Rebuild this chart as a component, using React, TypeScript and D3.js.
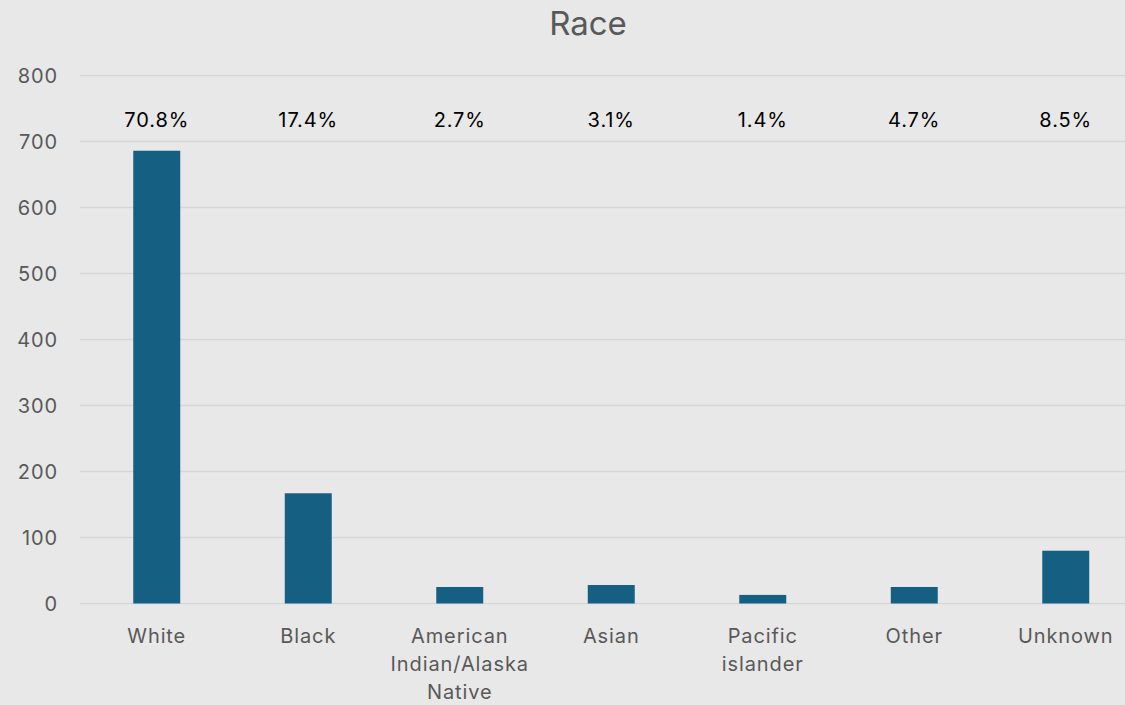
import React from "react";
import * as d3 from "d3";

const categories = ["White", "Black", "American Indian/Alaska Native", "Asian", "Pacific islander", "Other", "Unknown"];
const categoryLines = [["White"], ["Black"], ["American", "Indian/Alaska", "Native"], ["Asian"], ["Pacific", "islander"], ["Other"], ["Unknown"]];
const values = [686, 167, 25, 28, 13, 25, 80];
const percentLabels = ["70.8%", "17.4%", "2.7%", "3.1%", "1.4%", "4.7%", "8.5%"];
const yTicks = [0, 100, 200, 300, 400, 500, 600, 700, 800];
const title = "Race";

export default function App() {
  const W = 1125, H = 705;
  const x = d3.scaleBand<string>().domain(categories).range([81, 1141.5]).paddingInner(0.69).paddingOuter(0.345);
  const y = d3.scaleLinear().domain([0, 800]).range([603.5, 75.5]);
  const font = "Inter, 'Open Sans', sans-serif";
  const gray = "#595959";
  const ls = 0.9;
  return (
    <svg width={W} height={H} style={{ position: "absolute", left: 0, top: 0 }}>
      <rect x={0} y={0} width={W} height={H} fill="#e8e8e8" />
      <text x={588} y={35} textAnchor="middle" fontFamily={font} fontSize={33} fill={gray}>{title}</text>
      {yTicks.map((t) => (
        <g key={t}>
          <line x1={80} x2={W} y1={y(t)} y2={y(t)} stroke="#d6d6d6" strokeWidth={1.5} />
          <text x={58} y={y(t) + 7} textAnchor="end" fontFamily={font} fontSize={20} letterSpacing={ls} fill={gray}>{t}</text>
        </g>
      ))}
      {categories.map((c, i) => (
        <g key={c}>
          <rect x={x(c)!} y={y(values[i])} width={x.bandwidth()} height={y(0) - y(values[i])} fill="#155f82" />
          <text x={x(c)! + x.bandwidth() / 2} y={127} textAnchor="middle" fontFamily={font} fontSize={20} letterSpacing={ls} fill="#000">{percentLabels[i]}</text>
          {categoryLines[i].map((ln, j) => (
            <text key={j} x={x(c)! + x.bandwidth() / 2} y={643 + j * 28} textAnchor="middle" fontFamily={font} fontSize={20} letterSpacing={ls} fill={gray}>{ln}</text>
          ))}
        </g>
      ))}
    </svg>
  );
}
